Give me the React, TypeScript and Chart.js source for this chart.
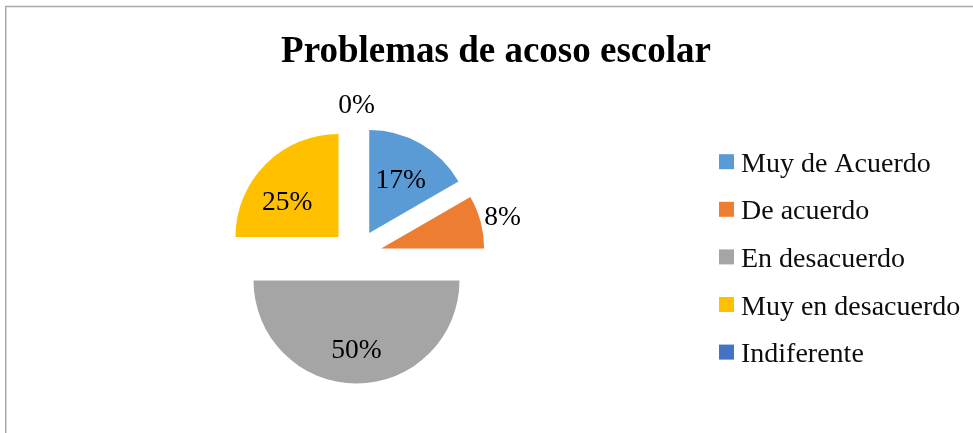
import React, { useEffect, useRef } from "react";
import { Chart, registerables } from "chart.js";

Chart.register(...registerables);

// ---- data ----
const TITLE = "Problemas de acoso escolar";
const categories = ["Muy de Acuerdo", "De acuerdo", "En desacuerdo", "Muy en desacuerdo", "Indiferente"];
const values = [2, 1, 6, 3, 0];
const colors = ["#5B9BD5", "#ED7D31", "#A5A5A5", "#FFC000", "#4472C4"];

// ---- style / layout ----
const W = 973;
const H = 433;
const FONT = "'Liberation Serif', 'Times New Roman', serif";
const EXPLODE = 25.5;
const PIE_RADIUS = 103;
const LABEL_SIZE = 27.5;
const LEGEND_SIZE = 28;
const LEGEND_X = 719;
const LEGEND_Y0 = 161.7;
const LEGEND_STEP = 47.6;
const LEGEND_BOX = 15;
const LEGEND_GAP = 7;

const total = values.reduce((a, b) => a + b, 0);
const pctText = values.map((v) => Math.round((v / total) * 100) + "%");

const framePlugin = {
  id: "frame",
  beforeDraw(chart: any) {
    const ctx = chart.ctx;
    ctx.save();
    ctx.fillStyle = "#ffffff";
    ctx.fillRect(0, 0, W, H);
    ctx.strokeStyle = "#a9a9a9";
    ctx.lineWidth = 1.5;
    ctx.beginPath();
    ctx.moveTo(5.75, H);
    ctx.lineTo(5.75, 6.5);
    ctx.lineTo(W, 6.5);
    ctx.stroke();
    // title
    ctx.fillStyle = "#000000";
    ctx.font = `bold 37px ${FONT}`;
    ctx.textAlign = "center";
    ctx.textBaseline = "alphabetic";
    ctx.fillText(TITLE, 496, 62);
    ctx.restore();
  },
};

const explodePlugin = {
  id: "explode",
  beforeDatasetDraw(chart: any, args: any) {
    const ctx = chart.ctx;
    args.meta.data.forEach((arc: any) => {
      const mid = (arc.startAngle + arc.endAngle) / 2;
      ctx.save();
      ctx.translate(Math.cos(mid) * EXPLODE, Math.sin(mid) * EXPLODE);
      arc.draw(ctx);
      ctx.restore();
    });
    return false;
  },
};

const labelPlugin = {
  id: "pieLabels",
  afterDatasetsDraw(chart: any) {
    const ctx = chart.ctx;
    const meta = chart.getDatasetMeta(0);
    ctx.save();
    ctx.font = `${LABEL_SIZE}px ${FONT}`;
    ctx.fillStyle = "#000000";
    ctx.textAlign = "center";
    ctx.textBaseline = "alphabetic";
    meta.data.forEach((arc: any, i: number) => {
      const pct = (values[i] / total) * 100;
      let mid = (arc.startAngle + arc.endAngle) / 2;
      const cx = arc.x + Math.cos(mid) * EXPLODE;
      const cy = arc.y + Math.sin(mid) * EXPLODE;
      // Excel-like placement: inside labels lean slightly toward horizontal for large left slices
      const labelAngle = pct >= 20 && pct < 50 ? mid - 0.17 : mid;
      const frac = pct < 10 ? 1.22 : pct >= 50 ? 0.66 : 0.61;
      const px = cx + Math.cos(labelAngle) * arc.outerRadius * frac;
      const py = cy + Math.sin(labelAngle) * arc.outerRadius * frac;
      ctx.fillText(pctText[i], px, py + LABEL_SIZE * 0.338);
    });
    ctx.restore();

    // legend
    ctx.save();
    ctx.font = `${LEGEND_SIZE}px ${FONT}`;
    ctx.textAlign = "left";
    ctx.textBaseline = "alphabetic";
    categories.forEach((c, i) => {
      const yc = LEGEND_Y0 + i * LEGEND_STEP;
      ctx.fillStyle = colors[i];
      ctx.fillRect(LEGEND_X, yc - LEGEND_BOX / 2, LEGEND_BOX, LEGEND_BOX);
      ctx.fillStyle = "#0d0d0d";
      ctx.fillText(c, LEGEND_X + LEGEND_BOX + LEGEND_GAP, yc + 10);
    });
    ctx.restore();
  },
};

export default function App() {
  const ref = useRef<HTMLCanvasElement | null>(null);

  useEffect(() => {
    if (!ref.current) return;
    const chart = new Chart(ref.current, {
      type: "pie",
      data: {
        labels: categories,
        datasets: [
          {
            data: values,
            backgroundColor: colors,
            borderWidth: 0,
            radius: PIE_RADIUS,
          } as any,
        ],
      },
      options: {
        responsive: false,
        animation: false,
        layout: { padding: { left: 200, right: W - 513, top: 120, bottom: H - 390 } },
        plugins: {
          legend: { display: false },
          title: { display: false },
          tooltip: { enabled: false },
        },
      },
      plugins: [framePlugin, explodePlugin, labelPlugin],
    });
    return () => chart.destroy();
  }, []);

  return (
    <div style={{ position: "fixed", left: 0, top: 0, width: W, height: H, background: "#fff" }}>
      <canvas ref={ref} width={W} height={H} style={{ display: "block", width: W, height: H }} />
    </div>
  );
}
